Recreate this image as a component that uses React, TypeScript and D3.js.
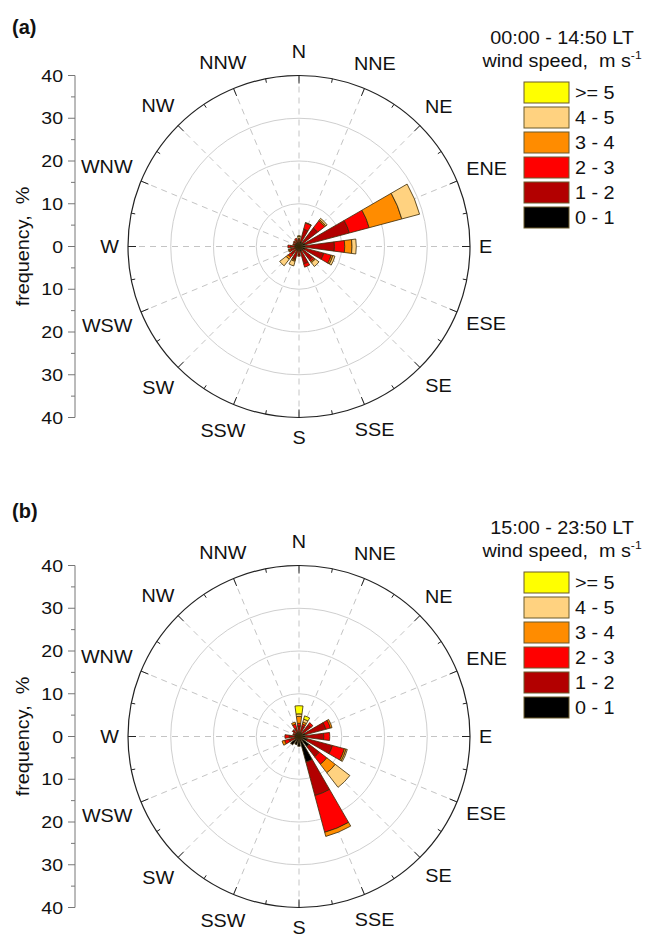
import React from "react";
import * as d3 from "d3";

const directions = ["N","NNE","NE","ENE","E","ESE","SE","SSE","S","SSW","SW","WSW","W","WNW","NW","NNW"];
const speedClasses = ["0 - 1","1 - 2","2 - 3","3 - 4","4 - 5",">= 5"];
const classColors = ["#000000","#B20000","#FF0000","#FF8C00","#FFD280","#FFFF00"];
const radialTicks = [10, 20, 30];
const axisTickValues = [40, 30, 20, 10, 0, -10, -20, -30, -40];
const axisTickLabels = ["40","30","20","10","0","10","20","30","40"];

// Panel (a) 00:00 - 14:50 LT, frequency (%) per speed class for each direction
const a_s01 = [1.0,1.2,1.2,1.5,1.5,1.5,1.2,1.2,1.0,1.0,1.0,1.0,1.0,1.0,1.0,1.0];
const a_s12 = [0.5,3.0,4.3,10.7,6.8,4.5,2.8,3.0,1.0,2.0,1.5,1.0,1.0,0.5,0.5,0.5];
const a_s23 = [0.3,1.5,2.1,4.8,2.4,1.8,0.5,0.8,0.3,0.3,0.7,0.4,0.6,0.0,0.2,0.5];
const a_s34 = [0.1,0.0,0.3,7.9,1.7,0.4,0.3,0.0,0.0,0.3,0.6,0.2,0.0,0.0,0.0,0.0];
const a_s45 = [0.5,0.1,0.4,4.3,1.0,0.5,1.1,0.0,0.0,1.1,1.9,0.0,0.0,0.0,0.0,0.0];
const a_s5p = [0.1,0.0,0.0,0.0,0.0,0.0,0.0,0.0,0.0,0.0,0.0,0.0,0.0,0.0,0.0,0.0];

// Panel (b) 15:00 - 23:50 LT
const b_s01 = [1.0,1.0,1.0,1.5,1.5,2.0,3.0,6.2,2.3,2.0,2.5,1.0,1.0,1.0,1.0,1.0];
const b_s12 = [1.5,1.5,2.5,5.0,4.3,6.1,3.0,8.1,0.0,0.0,0.0,1.5,1.3,0.5,1.0,1.0];
const b_s23 = [0.6,0.5,0.6,1.1,1.4,2.9,2.2,8.9,0.0,0.0,0.0,1.0,1.0,0.0,0.0,1.0];
const b_s34 = [1.6,0.5,0.0,0.4,0.0,0.4,2.5,1.0,0.0,0.0,0.0,0.6,0.0,0.0,0.0,0.5];
const b_s45 = [0.6,0.7,0.0,0.0,0.0,0.3,4.3,0.0,0.0,0.0,0.0,0.0,0.0,0.0,0.0,0.0];
const b_s5p = [1.9,0.8,0.0,0.0,0.0,0.0,0.0,0.0,0.0,0.0,0.0,0.0,0.0,0.0,0.0,0.0];

const panels = [
  { label: "(a)", title: "00:00 - 14:50 LT", series: [a_s01, a_s12, a_s23, a_s34, a_s45, a_s5p], cy: 246.5, labelY: 34 },
  { label: "(b)", title: "15:00 - 23:50 LT", series: [b_s01, b_s12, b_s23, b_s34, b_s45, b_s5p], cy: 736.5, labelY: 518 },
];

const FONT = "'Liberation Sans', Arial, sans-serif";
const CX = 299;
const R = 171;
const SX = 1.1;
const charW: Record<string, number> = { N: 0.722, E: 0.667, S: 0.667, W: 0.944 };

function T({ x, y, children, anchor = "start", size = 18, sx = SX, bold = false, dy = "0.36em" }: any) {
  return (
    <g transform={`translate(${x},${y}) scale(${sx},1)`}>
      <text x={0} y={0} dy={dy} textAnchor={anchor} fontFamily={FONT} fontSize={size}
        fontWeight={bold ? "bold" : "normal"} fill="#111" style={{ whiteSpace: "pre" }}>
        {children}
      </text>
    </g>
  );
}

function Panel({ p }: { p: typeof panels[number] }) {
  const cy = p.cy;
  const r = d3.scaleLinear().domain([0, 40]).range([0, R]);
  const yAxis = d3.scaleLinear().domain([40, -40]).range([cy - R, cy + R]);
  const angle = d3.scaleBand<string>().domain(directions).range([0, 2 * Math.PI]);
  const step = (2 * Math.PI) / directions.length;
  const halfW = ((15 / 2) * Math.PI) / 180;
  const arc = d3.arc<any>();
  const fs = 18;

  const segs: JSX.Element[] = [];
  directions.forEach((d, i) => {
    const th = i * step;
    let cum = 0;
    p.series.forEach((ser, k) => {
      const v = ser[i];
      if (v <= 0) return;
      const path = arc({
        innerRadius: r(cum),
        outerRadius: r(cum + v),
        startAngle: th - halfW,
        endAngle: th + halfW,
      }) as string;
      cum += v;
      segs.push(
        <path key={d + k} d={path} fill={classColors[k]} stroke="#3a2a08" strokeWidth={0.8} strokeLinejoin="round" />
      );
    });
  });

  const minorTicks = d3.range(0, 32);
  const axisMinor = d3.range(-40, 41, 5);

  return (
    <g>
      <T x={12} y={p.labelY} dy="0" size={20} sx={1.0} bold>{p.label}</T>
      {radialTicks.map((t) => (
        <circle key={t} cx={CX} cy={cy} r={r(t)} fill="none" stroke="#cfcfcf" strokeWidth={1} />
      ))}
      {directions.map((d, i) => {
        const th = i * step;
        return (
          <line key={d} x1={CX} y1={cy} x2={CX + R * Math.sin(th)} y2={cy - R * Math.cos(th)}
            stroke="#c4c4c4" strokeWidth={1} strokeDasharray="6,5" />
        );
      })}
      <g transform={`translate(${CX},${cy})`}>{segs}</g>
      <circle cx={CX} cy={cy} r={R} fill="none" stroke="#222" strokeWidth={1.2} />
      {minorTicks.map((j) => {
        const th = (j * Math.PI) / 16;
        const len = j % 2 === 0 ? 8 : 4;
        return (
          <line key={j} x1={CX + R * Math.sin(th)} y1={cy - R * Math.cos(th)}
            x2={CX + (R - len) * Math.sin(th)} y2={cy - (R - len) * Math.cos(th)}
            stroke="#222" strokeWidth={1} />
        );
      })}
      {directions.map((d) => {
        const th = angle(d) as number;
        const w = d.split("").reduce((s, c) => s + (charW[c] || 0.7) * fs * SX, 0);
        const rr = 180 + Math.abs(Math.sin(th)) * (w / 2) + Math.abs(Math.cos(th)) * 11 + (Math.cos(th) > 0.99 ? 4 : 0);
        return (
          <T key={d} x={CX + rr * Math.sin(th)} y={cy - rr * Math.cos(th)} anchor="middle" size={fs}>{d}</T>
        );
      })}
      <line x1={75} y1={yAxis(40)} x2={75} y2={yAxis(-40)} stroke="#777" strokeWidth={1} />
      {axisMinor.map((v) => (
        <line key={v} x1={75} y1={yAxis(v)} x2={v % 10 === 0 ? 68 : 71} y2={yAxis(v)} stroke="#777" strokeWidth={1} />
      ))}
      {axisTickValues.map((v, i) => (
        <T key={v} x={63} y={yAxis(v)} anchor="end" size={17} sx={1.15}>{axisTickLabels[i]}</T>
      ))}
      <g transform={`translate(29,${cy}) rotate(-90) scale(1.1,1)`}>
        <text x={0} y={0} textAnchor="middle" fontFamily={FONT} fontSize={18} fill="#111" style={{ whiteSpace: "pre" }}>
          {"frequency,  %"}
        </text>
      </g>
      <T x={562} y={cy - 209} anchor="middle" size={18}>{p.title}</T>
      <T x={562} y={cy - 186} anchor="middle" size={18}>
        {"wind speed,  m s"}
        <tspan fontSize={11} dy={-8}>{"-1"}</tspan>
      </T>
      {speedClasses.slice().reverse().map((s, j) => {
        const k = speedClasses.length - 1 - j;
        const top = cy - 164.5 + j * 25;
        return (
          <g key={s}>
            <rect x={524} y={top} width={45} height={21} fill={classColors[k]} stroke="#6b5a2a" strokeWidth={1} />
            <T x={575} y={top + 10.5} size={18}>{s}</T>
          </g>
        );
      })}
    </g>
  );
}

export default function App() {
  return (
    <svg width={650} height={935} viewBox="0 0 650 935"
      style={{ position: "absolute", left: 0, top: 0, background: "#fff" }}>
      <rect width={650} height={935} fill="#fff" />
      {panels.map((p) => (
        <Panel key={p.label} p={p} />
      ))}
    </svg>
  );
}
